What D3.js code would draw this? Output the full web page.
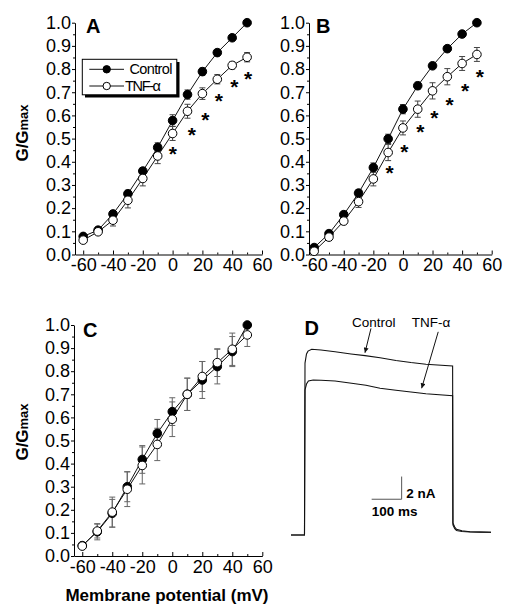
<!DOCTYPE html>
<html><head><meta charset="utf-8">
<script src="https://cdn.jsdelivr.net/npm/d3@7"></script>
<style>body{margin:0;background:#fff}svg{display:block}</style>
</head><body>
<svg id="fig" width="513" height="616"></svg>
<script>
// ---------- data ----------
const voltages = [-60,-50,-40,-30,-20,-10,0,10,20,30,40,50];

const aControl    = [0.078,0.105,0.175,0.262,0.360,0.462,0.578,0.690,0.789,0.871,0.935,1.000];
const aControlErr = [0.010,0.012,0.015,0.015,0.015,0.020,0.025,0.020,0.015,0.012,0.010,0.000];
const aTnf        = [0.062,0.098,0.148,0.234,0.328,0.425,0.522,0.618,0.694,0.756,0.816,0.851];
const aTnfErr     = [0.010,0.012,0.025,0.033,0.032,0.033,0.030,0.030,0.025,0.020,0.015,0.020];
const aStarX = [0.1,13,22,31,41.5,50.6];
const aStarY = [0.451,0.533,0.600,0.680,0.740,0.777];

const bControl    = [0.030,0.090,0.172,0.265,0.375,0.499,0.627,0.728,0.814,0.888,0.951,1.000];
const bControlErr = [0.010,0.010,0.012,0.015,0.020,0.020,0.020,0.015,0.012,0.010,0.010,0.000];
const bTnf        = [0.014,0.075,0.144,0.228,0.326,0.440,0.546,0.627,0.706,0.767,0.824,0.863];
const bTnfErr     = [0.012,0.015,0.015,0.025,0.030,0.035,0.030,0.035,0.035,0.035,0.030,0.030];
const bStarX = [-9,0.9,11.7,21.2,31.5,42,52];
const bStarY = [0.369,0.460,0.549,0.607,0.665,0.723,0.786];

const cControl    = [0.045,0.105,0.185,0.300,0.418,0.531,0.625,0.700,0.762,0.820,0.885,1.000];
const cControlErr = [0.010,0.035,0.060,0.065,0.060,0.060,0.060,0.070,0.080,0.075,0.065,0.000];
const cTnf        = [0.043,0.108,0.190,0.289,0.392,0.483,0.592,0.700,0.777,0.837,0.895,0.957];
const cTnfErr     = [0.010,0.030,0.065,0.075,0.080,0.070,0.075,0.070,0.065,0.060,0.070,0.050];

const yTickValues = [0,0.1,0.2,0.3,0.4,0.5,0.6,0.7,0.8,0.9,1.0];
const yMinorValues = [0.05,0.15,0.25,0.35,0.45,0.55,0.65,0.75,0.85,0.95];
const xTickValues = [-60,-40,-20,0,20,40,60];
const xTickLabels = ["-60","-40","-20","0","20","40","60"];
const xMinorValues = [-50,-30,-10,10,30,50];

// panel D current traces: [time ms, current nA]
const controlTrace = [[0,0],[43,0],[45,0],[46.7,15.15],[51.7,15.95],[56.7,16.2],[69,16.36],[100,16.3],[147,16.15],[200,15.95],[247,15.8],[297,15.62],[350,15.38],[400,15.2],[450,15.05],[539,14.89],[540,1.06],[546,0.7],[552,0.5],[570,0.38],[597,0.29],[630,0.26],[667,0.24]];
const tnfTrace     = [[0,0],[43,0],[45,0],[46.7,12.78],[51.7,13.3],[58,13.57],[74,13.66],[100,13.64],[147,13.57],[202,13.37],[250,13.2],[297,12.93],[350,12.75],[400,12.6],[450,12.45],[539,12.27],[540,0.9],[546,0.55],[552,0.4],[570,0.31],[597,0.26],[630,0.25],[667,0.24]];

// ---------- drawing ----------
const svg = d3.select("#fig");
svg.append("rect").attr("width",513).attr("height",616).attr("fill","#fff");
const FONT = "Liberation Sans, Arial, Helvetica, sans-serif";

function ivPanel(cfg){
  const g = svg.append("g");
  const x = d3.scaleLinear().domain(cfg.xd).range(cfg.xr);
  const y = d3.scaleLinear().domain([0,1]).range(cfg.yr);
  const y0 = cfg.yr[0];

  const ax = g.append("g").attr("transform",`translate(${cfg.xr[0]},0)`)
    .call(d3.axisLeft(y).tickValues(yTickValues).tickSize(3).tickSizeOuter(0).tickPadding(1)
      .tickFormat(d3.format(".1f")));
  ax.selectAll("text").attr("font-family",FONT).attr("font-size",18).attr("fill","#000");
  g.append("g").attr("transform",`translate(${cfg.xr[0]},0)`)
    .call(d3.axisLeft(y).tickValues(yMinorValues).tickSize(2).tickFormat(""))
    .select(".domain").remove();
  const bx = g.append("g").attr("transform",`translate(0,${y0})`)
    .call(d3.axisBottom(x).tickValues(xTickValues).tickSize(-4).tickSizeOuter(0).tickPadding(4)
      .tickFormat((d,i)=>xTickLabels[i]));
  bx.selectAll("text").attr("font-family",FONT).attr("font-size",18).attr("fill","#000");
  g.append("g").attr("transform",`translate(0,${y0})`)
    .call(d3.axisBottom(x).tickValues(xMinorValues).tickSize(-2).tickFormat(""))
    .select(".domain").remove();
  g.selectAll(".domain, .tick line").attr("stroke","#000").attr("stroke-width",1);

  const series = [
    {v:cfg.control, e:cfg.controlErr, fill:"#000"},
    {v:cfg.tnf, e:cfg.tnfErr, fill:"#fff"}
  ];
  const line = d3.line().x((d,i)=>x(voltages[i])).y(d=>y(d));
  series.forEach(s=>{
    g.append("path").attr("d",line(s.v)).attr("fill","none")
      .attr("stroke","#111").attr("stroke-width",1);
  });
  series.forEach(s=>{
    const eb = g.append("g").attr("stroke",cfg.errColor).attr("stroke-width",1);
    s.v.forEach((v,i)=>{
      if(!s.e[i]) return;
      const cx = x(voltages[i]);
      eb.append("line").attr("x1",cx).attr("x2",cx).attr("y1",y(v-s.e[i])).attr("y2",y(v+s.e[i]));
      [v-s.e[i], v+s.e[i]].forEach(yy=>{
        eb.append("line").attr("x1",cx-3).attr("x2",cx+3).attr("y1",y(yy)).attr("y2",y(yy));
      });
    });
  });
  series.forEach(s=>{
    g.append("g").selectAll("circle").data(s.v).join("circle")
      .attr("cx",(d,i)=>x(voltages[i])).attr("cy",d=>y(d)).attr("r",4.3)
      .attr("fill",s.fill).attr("stroke","#000").attr("stroke-width",1);
  });

  if(cfg.starX){
    g.append("g").selectAll("text").data(cfg.starX).join("text")
      .attr("x",d=>x(d)).attr("y",(d,i)=>y(cfg.starY[i])+11.5)
      .attr("text-anchor","middle").attr("font-family",FONT).attr("font-weight","bold")
      .attr("font-size",21).text("*");
  }
  g.append("text").attr("x",cfg.letterPos[0]).attr("y",cfg.letterPos[1])
    .attr("font-family",FONT).attr("font-weight","bold").attr("font-size",20).text(cfg.letter);
  return {g,x,y};
}

function yLabel(cx,cy){
  const t = svg.append("text").attr("transform",`translate(${cx},${cy}) rotate(-90)`)
    .attr("text-anchor","middle").attr("font-family",FONT).attr("font-weight","bold");
  t.append("tspan").attr("font-size",17).text("G/G");
  t.append("tspan").attr("font-size",13).text("max");
}

const A = ivPanel({xd:[-65.5,60], xr:[75,262], yr:[254.5,22.7],
  control:aControl, controlErr:aControlErr, tnf:aTnf, tnfErr:aTnfErr,
  starX:aStarX, starY:aStarY, errColor:"#444", letter:"A", letterPos:[86,33]});
const B = ivPanel({xd:[-63.5,60], xr:[309,491.7], yr:[254.5,22.7],
  control:bControl, controlErr:bControlErr, tnf:bTnf, tnfErr:bTnfErr,
  starX:bStarX, starY:bStarY, errColor:"#444", letter:"B", letterPos:[316,33]});
const C = ivPanel({xd:[-65.5,60], xr:[74,262.3], yr:[556,325],
  control:cControl, controlErr:cControlErr, tnf:cTnf, tnfErr:cTnfErr,
  errColor:"#666", letter:"C", letterPos:[83,337]});

yLabel(28,133);
yLabel(28,432);
svg.append("text").attr("x",167).attr("y",601).attr("text-anchor","middle")
  .attr("font-family",FONT).attr("font-weight","bold").attr("font-size",17)
  .text("Membrane potential (mV)");

// legend in A
const lg = svg.append("g");
lg.append("rect").attr("x",85).attr("y",62).attr("width",94.5).attr("height",35.5).attr("fill","#000");
lg.append("rect").attr("x",82.3).attr("y",59.3).attr("width",94.5).attr("height",35.5)
  .attr("fill","#fff").attr("stroke","#000").attr("stroke-width",1);
[{y:69.3, fill:"#000", label:"Control", tx:129.5},{y:86, fill:"#fff", label:"TNF-α", tx:125}].forEach(e=>{
  lg.append("line").attr("x1",89.3).attr("x2",124).attr("y1",e.y).attr("y2",e.y).attr("stroke","#111");
  lg.append("circle").attr("cx",106.7).attr("cy",e.y).attr("r",3.7).attr("fill",e.fill).attr("stroke","#000");
  lg.append("text").attr("x",e.tx).attr("y",e.y+5).attr("font-family",FONT).attr("font-size",14.5)
    .attr("textLength",e.label==="Control"?43:36).text(e.label);
});

// ---------- panel D ----------
const xD = d3.scaleLinear().domain([0,667]).range([291,491]);
const yD = d3.scaleLinear().domain([0,2]).range([535,512.3]);
const tr = d3.line().x(d=>xD(d[0])).y(d=>yD(d[1]));
[controlTrace, tnfTrace].forEach(t=>{
  svg.append("path").attr("d",tr(t)).attr("fill","none").attr("stroke","#111").attr("stroke-width",1.1);
});
svg.append("path").attr("d",`M${xD(269)},${yD(3.15)}H${xD(369)}V${yD(5.15)}`)
  .attr("fill","none").attr("stroke","#555").attr("stroke-width",1);
svg.append("text").attr("x",xD(384)).attr("y",yD(3.15)-1.5).attr("font-family",FONT)
  .attr("font-weight","bold").attr("font-size",13.5).text("2 nA");
svg.append("text").attr("x",xD(269)).attr("y",yD(3.15)+17).attr("font-family",FONT)
  .attr("font-weight","bold").attr("font-size",13.5).text("100 ms");
svg.append("defs").append("marker").attr("id","ah").attr("viewBox","0 0 10 10")
  .attr("refX",10).attr("refY",5).attr("markerWidth",6).attr("markerHeight",5)
  .attr("orient","auto").attr("markerUnits","userSpaceOnUse")
  .append("path").attr("d","M0,0L10,5L0,10z").attr("fill","#111");
svg.append("text").attr("x",xD(276)).attr("y",326.7).attr("text-anchor","middle")
  .attr("font-family",FONT).attr("font-size",13.5).text("Control");
svg.append("text").attr("x",xD(467)).attr("y",326.7).attr("text-anchor","middle")
  .attr("font-family",FONT).attr("font-size",13.5).text("TNF-α");
svg.append("line").attr("x1",xD(266.7)).attr("y1",yD(18.2)).attr("x2",xD(246.7)).attr("y2",yD(16.06))
  .attr("stroke","#111").attr("marker-end","url(#ah)");
svg.append("line").attr("x1",xD(491)).attr("y1",yD(17.9)).attr("x2",xD(435.7)).attr("y2",yD(12.93))
  .attr("stroke","#111").attr("marker-end","url(#ah)");
svg.append("text").attr("x",304.5).attr("y",335).attr("font-family",FONT)
  .attr("font-weight","bold").attr("font-size",20).text("D");
</script>
</body></html>
